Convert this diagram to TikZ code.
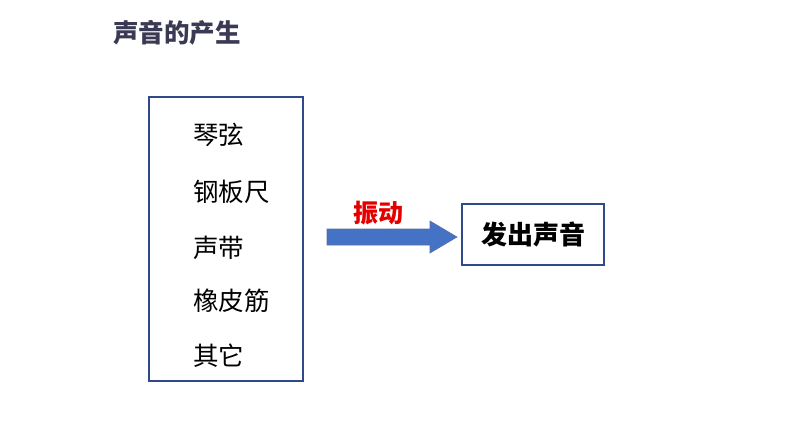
\documentclass[tikz,border=0pt]{standalone}
\usepackage{fontspec}
\newfontfamily\cjk{Noto Sans CJK SC}
\usetikzlibrary{arrows.meta}
\definecolor{boxblue}{HTML}{2F4A8A}
\definecolor{arrowblue}{HTML}{4472C4}
\definecolor{titlegray}{HTML}{3A3A55}
\begin{document}
\begin{tikzpicture}[x=1pt,y=-1pt,
  item/.style={anchor=west,font=\cjk\fontsize{25.5}{30}\selectfont,inner sep=0pt}]
\useasboundingbox (0,0) rectangle (794,447);
\node[anchor=west,inner sep=0pt,text=titlegray,font=\cjk\bfseries\fontsize{25.5}{30}\selectfont] (title) at (113,33) {声音的产生};
\draw[boxblue,line width=1.5pt] (149,97) rectangle (303,381);
\node[item] (a) at (193,135) {琴弦};
\node[item] (b) at (193,192) {钢板尺};
\node[item] (c) at (193,248) {声带};
\node[item] (d) at (193,301) {橡皮筋};
\node[item] (e) at (193,356) {其它};
\fill[arrowblue,draw=boxblue!80,line width=0.6pt] (327,229) -- (430,229) -- (430,221) -- (457,237) -- (430,253) -- (430,245) -- (327,245) -- cycle;
\node[inner sep=0pt,text=red!90!black,font=\cjk\bfseries\fontsize{25}{30}\selectfont] (v) at (378.5,213) {振动};
\node[draw=boxblue,line width=1.5pt,minimum width=142pt,minimum height=61pt,inner sep=0pt,font=\cjk\bfseries\fontsize{26}{30}\selectfont] (out) at (533,234.5) {发出声音};
\end{tikzpicture}
\end{document}
